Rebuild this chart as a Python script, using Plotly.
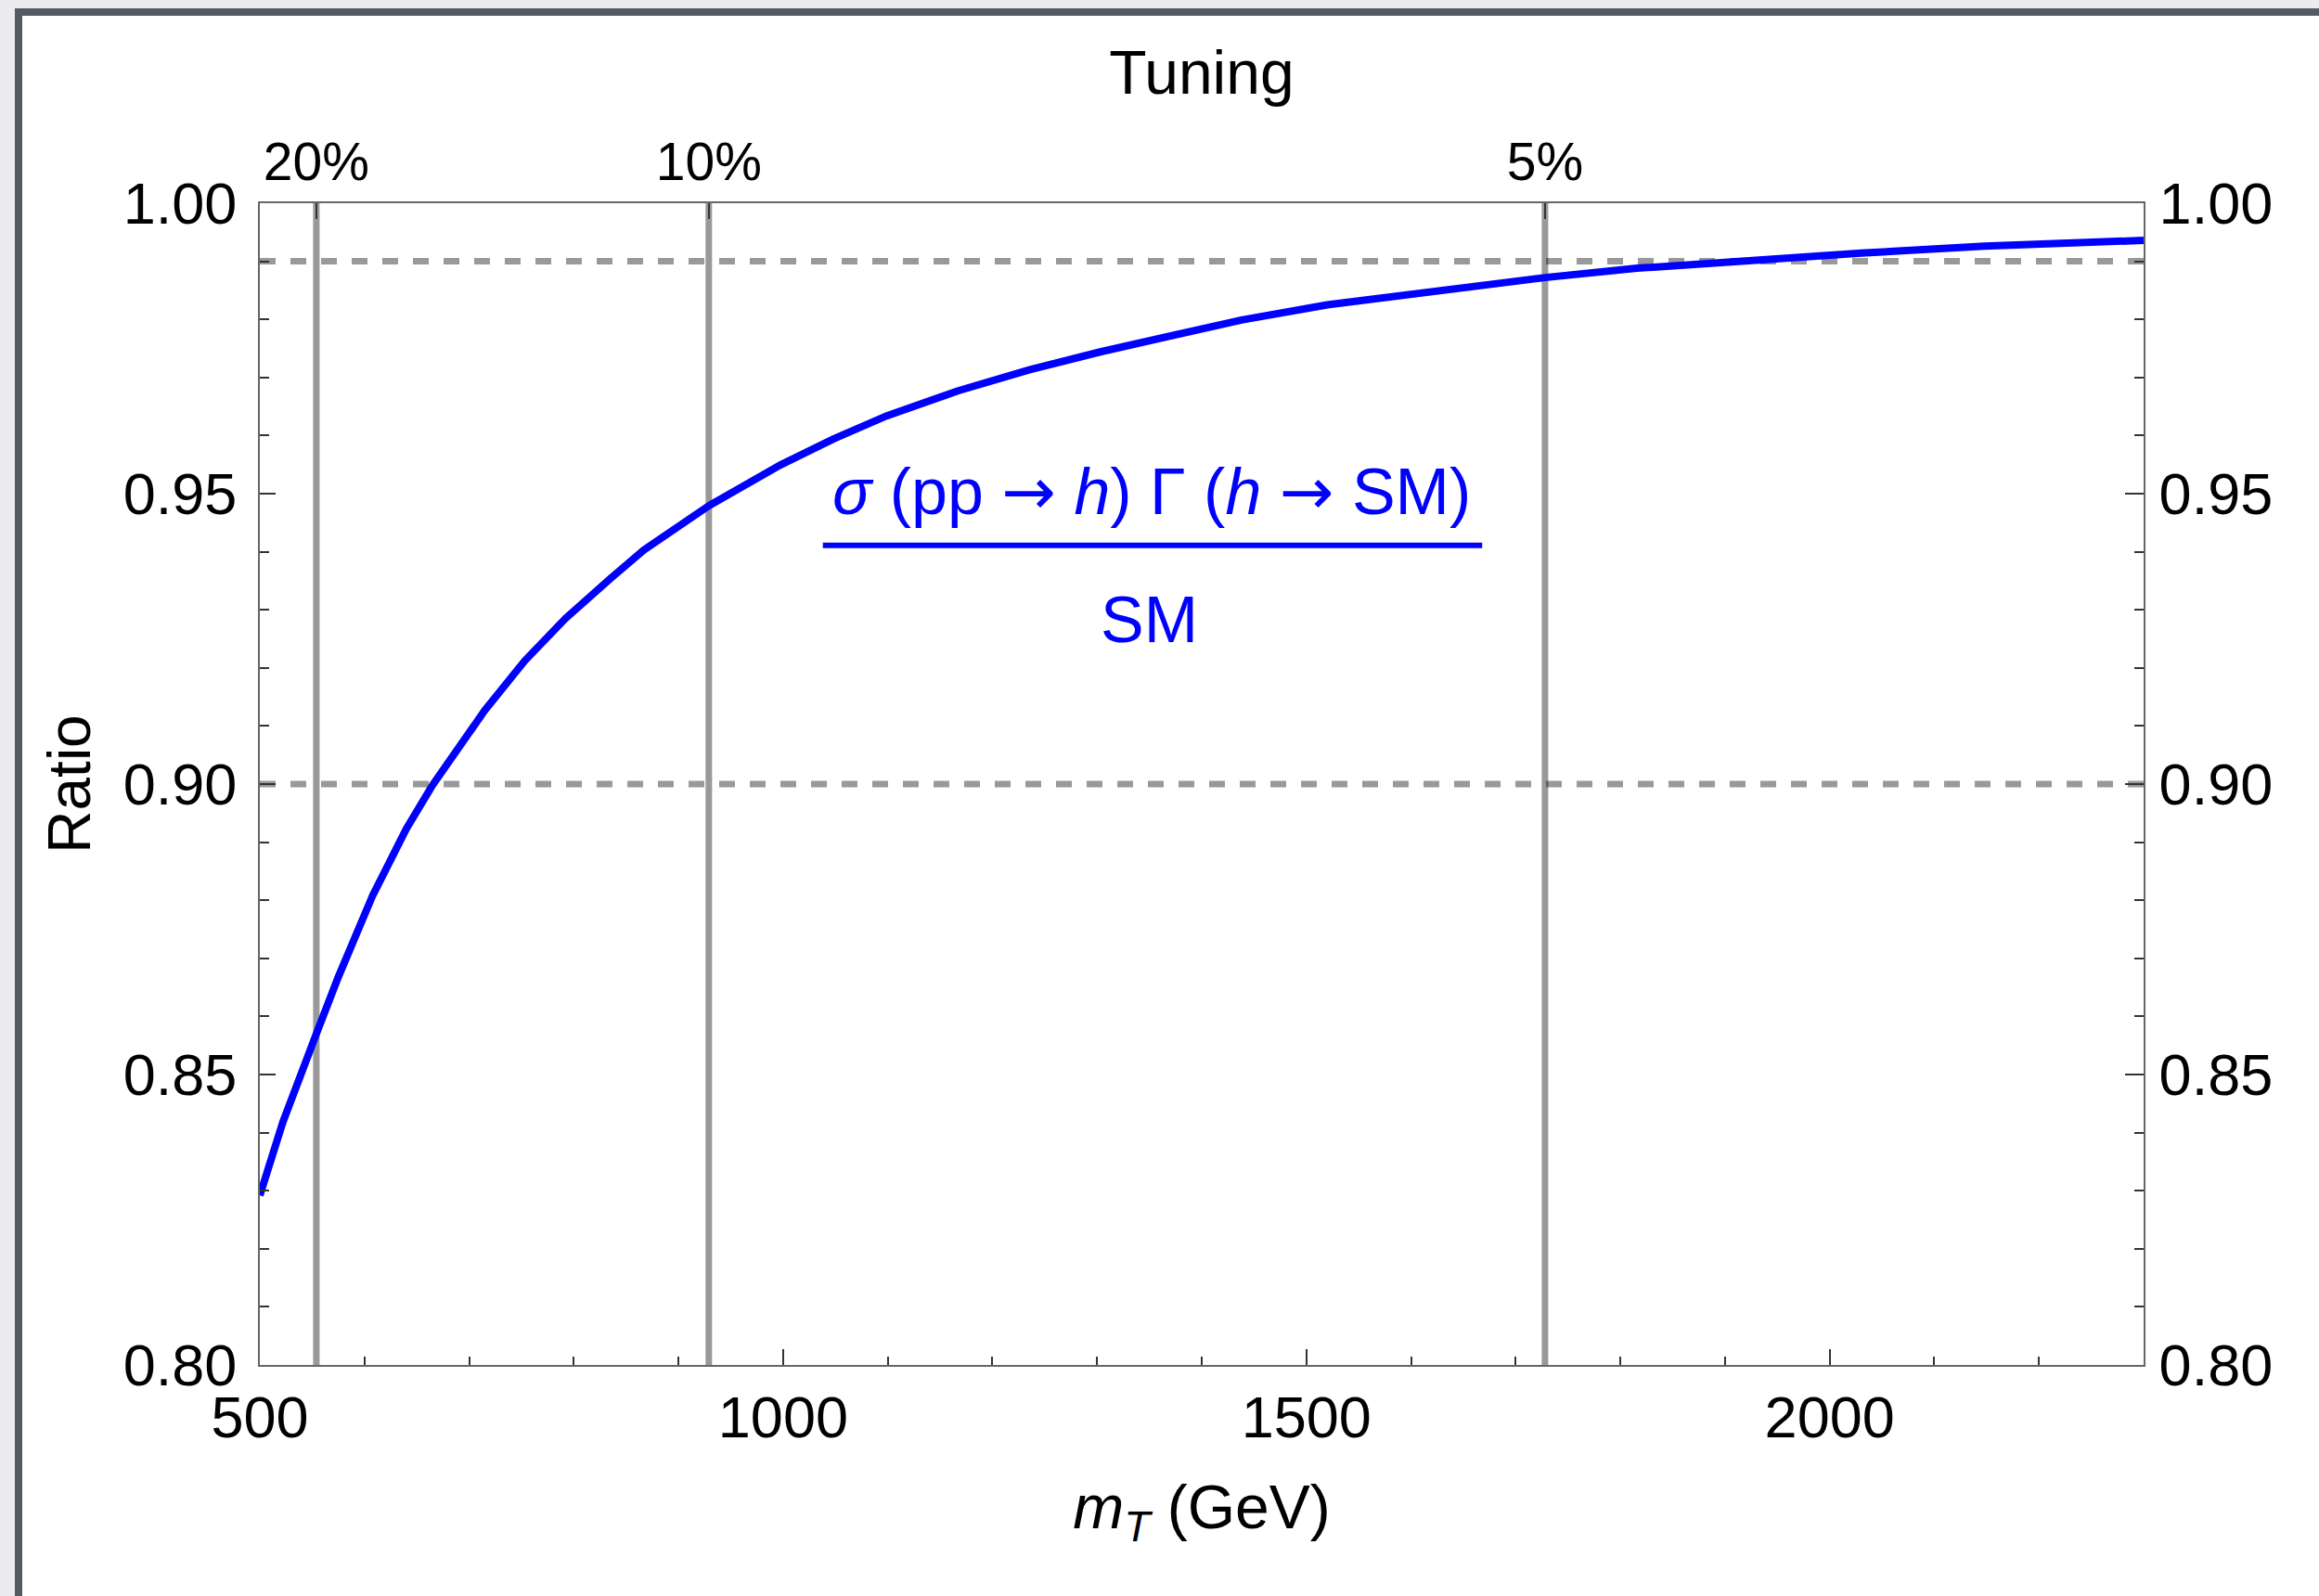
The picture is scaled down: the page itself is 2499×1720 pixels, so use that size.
import plotly.graph_objects as go

# ---- data -------------------------------------------------------------
mt_gev = [500, 522, 554, 575, 608, 640, 665, 686, 715, 753, 792, 835, 867,
          928, 997, 1048, 1099, 1167, 1235, 1303, 1370, 1438, 1520, 1624,
          1728, 1816, 1920, 2030, 2148, 2300]
ratio = [0.8292, 0.8418, 0.8570, 0.8668, 0.8809, 0.8923, 0.8998, 0.9052,
         0.9127, 0.9212, 0.9285, 0.9354, 0.9403, 0.9478, 0.9549, 0.9594,
         0.9634, 0.9677, 0.9713, 0.9744, 0.9772, 0.9799, 0.9825, 0.9849,
         0.9872, 0.9888, 0.9901, 0.9914, 0.9926, 0.9936]

tuning_mt = [554, 929, 1728]
tuning_labels = ["20%", "10%", "5%"]
ref_levels = [0.99, 0.90]

x_ticks = [500, 1000, 1500, 2000]
x_tick_text = ["500", "1000", "1500", "2000"]
y_ticks = [0.80, 0.85, 0.90, 0.95, 1.00]

X_RANGE = [500, 2300]
Y_RANGE = [0.80, 1.00]

# ---- page geometry ----------------------------------------------------
W, H = 2499, 1720
M_L, M_R, M_T, M_B = 280, 189, 219, 249
PW, PH = W - M_L - M_R, H - M_T - M_B

FONT = "Liberation Sans, Arial, sans-serif"
ARROW = '<span style="font-family:DejaVu Sans">→</span>'
GUIDE = "rgba(0,0,0,0.4)"
BLUE = "#0000ff"


def px_x(px):
    return (px - M_L) / PW


def px_y(py):
    return (H - M_B - py) / PH


# ---- traces -----------------------------------------------------------
vx, vy = [], []
for m in tuning_mt:
    vx += [m, m, None]
    vy += [Y_RANGE[0], Y_RANGE[1], None]

hx, hy = [], []
for r in ref_levels:
    hx += [X_RANGE[0], X_RANGE[1], None]
    hy += [r, r, None]

fig = go.Figure()
fig.add_trace(go.Scatter(x=vx, y=vy, mode="lines", showlegend=False,
                         line=dict(color=GUIDE, width=7), hoverinfo="skip"))
fig.add_trace(go.Scatter(x=hx, y=hy, mode="lines", showlegend=False,
                         line=dict(color=GUIDE, width=7, dash="17px,16px"),
                         hoverinfo="skip"))
fig.add_trace(go.Scatter(x=mt_gev, y=ratio, mode="lines", showlegend=False,
                         line=dict(color=BLUE, width=8)))
# companion (invisible) trace so the top / right axes get their own subplot
fig.add_trace(go.Scatter(x=[X_RANGE[0]], y=[Y_RANGE[0]], xaxis="x2",
                         yaxis="y2", mode="markers", opacity=0,
                         showlegend=False, hoverinfo="skip"))

tick_font = dict(family=FONT, size=63, color="black")
common = dict(showline=True, linecolor="#666666", linewidth=2,
              ticks="inside", tickcolor="#333333", tickwidth=1.5,
              showgrid=False, zeroline=False)

fig.update_layout(
    width=W, height=H,
    template="none",
    paper_bgcolor="#ebebf0",
    plot_bgcolor="white",
    margin=dict(l=M_L, r=M_R, t=M_T, b=M_B, pad=0),
    showlegend=False,
    xaxis=dict(range=X_RANGE, tickvals=x_ticks, ticktext=x_tick_text,
               ticklen=17, tickfont=tick_font, ticklabelstandoff=0,
               minor=dict(dtick=100, tick0=500, ticklen=9, ticks="inside",
                          tickcolor="#333333", tickwidth=1.5),
               title=dict(text="<i>m</i><sub><i>T</i></sub> (GeV)",
                          font=dict(family=FONT, size=66, color="black"),
                          standoff=40),
               **common),
    yaxis=dict(range=Y_RANGE, tickvals=y_ticks, tickformat=".2f",
               ticklen=17, tickfont=tick_font, ticklabelstandoff=10,
               minor=dict(dtick=0.01, tick0=0.8, ticklen=10, ticks="inside",
                          tickcolor="#333333", tickwidth=1.5),
               title=dict(text="Ratio",
                          font=dict(family=FONT, size=64, color="black"),
                          standoff=14),
               **common),
    xaxis2=dict(range=X_RANGE, overlaying="x", anchor="y", side="top",
                tickvals=tuning_mt, ticktext=tuning_labels, ticklen=17,
                tickfont=dict(family=FONT, size=57, color="black"),
                ticklabelstandoff=0,
                title=dict(text="Tuning",
                           font=dict(family=FONT, size=66, color="black"),
                           standoff=19),
                **common),
    yaxis2=dict(range=Y_RANGE, overlaying="y", anchor="x", side="right",
                tickvals=y_ticks, tickformat=".2f", ticklen=20,
                tickfont=tick_font, ticklabelstandoff=2,
                minor=dict(dtick=0.01, tick0=0.8, ticklen=10, ticks="inside",
                           tickcolor="#333333", tickwidth=1.5),
                **common),
)

# notebook-style frame around the figure
fig.add_shape(type="rect", xref="paper", yref="paper", layer="below",
              x0=px_x(16), x1=px_x(W + 20), y0=px_y(H + 20), y1=px_y(9),
              fillcolor="#545a61", line=dict(width=0))
fig.add_shape(type="rect", xref="paper", yref="paper", layer="below",
              x0=px_x(24), x1=px_x(W + 20), y0=px_y(H + 20), y1=px_y(17),
              fillcolor="white", line=dict(width=0))

# curve label written as a fraction
fig.add_annotation(x=1352, y=0.9503, xref="x", yref="y", showarrow=False,
                   yanchor="middle", xanchor="center",
                   text=f"<i>σ</i> (pp {ARROW} <i>h</i>) Γ (<i>h</i> {ARROW} SM)",
                   font=dict(family=FONT, size=70, color=BLUE))
fig.add_annotation(x=1350, y=0.9283, xref="x", yref="y", showarrow=False,
                   yanchor="middle", xanchor="center", text="SM",
                   font=dict(family=FONT, size=70, color=BLUE))
fig.add_shape(type="line", xref="x", yref="y", x0=1038, x1=1668,
              y0=0.9411, y1=0.9411, line=dict(color=BLUE, width=6))

fig.write_html("out.html")
